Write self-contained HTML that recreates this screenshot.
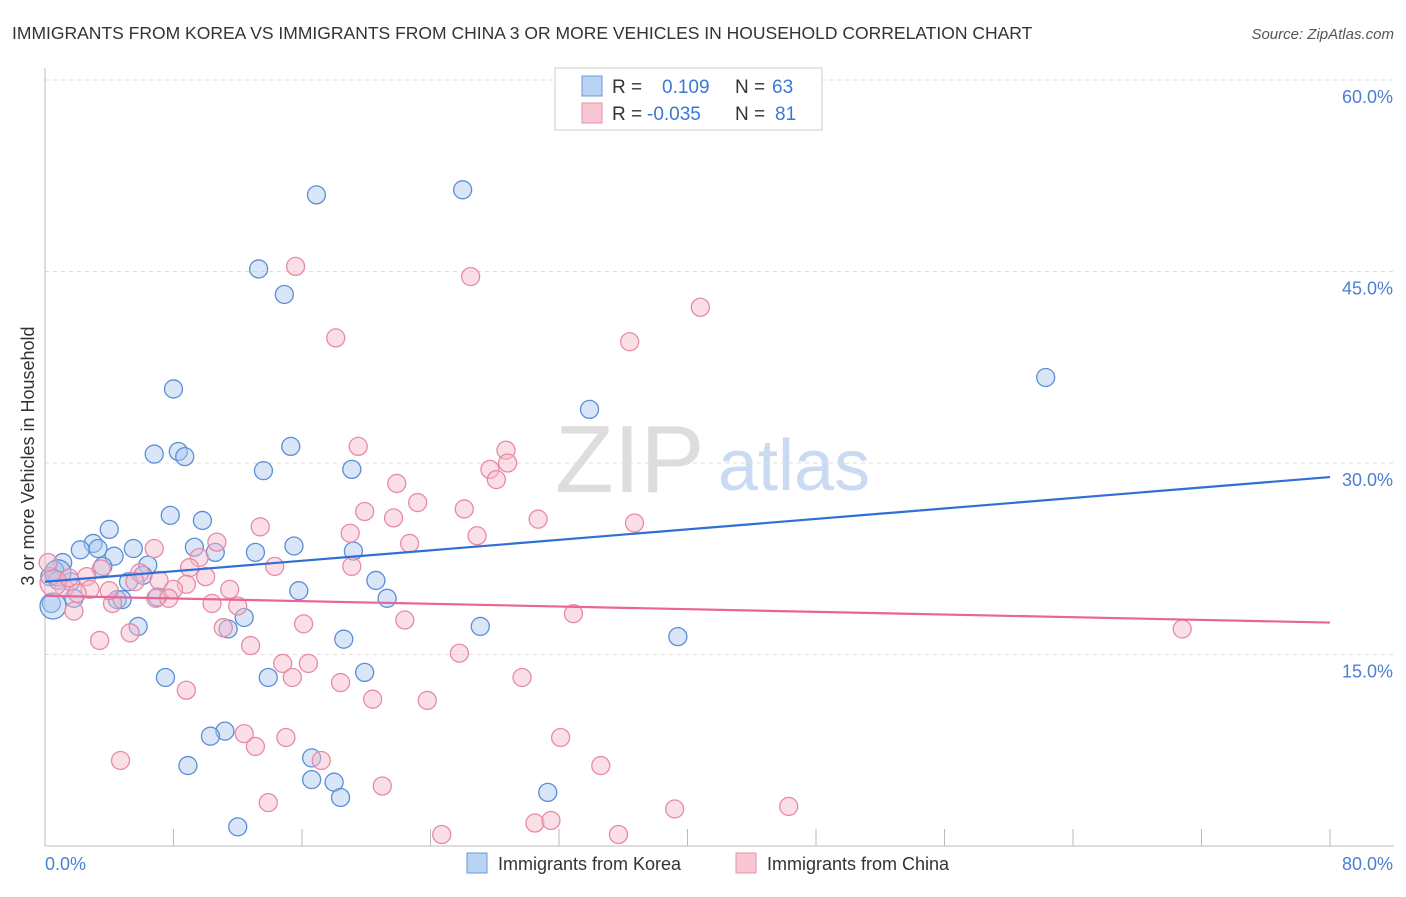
<!DOCTYPE html>
<html><head><meta charset="utf-8"><style>
body{margin:0;background:#fff;font-family:"Liberation Sans",sans-serif}
svg text{font-family:"Liberation Sans",sans-serif}
</style></head><body>
<svg id="c" width="1406" height="892">
<text x="12" y="39" font-size="17.5" fill="#333">IMMIGRANTS FROM KOREA VS IMMIGRANTS FROM CHINA 3 OR MORE VEHICLES IN HOUSEHOLD CORRELATION CHART</text>
<text x="1394" y="39" font-size="15" fill="#555" text-anchor="end" font-style="italic">Source: ZipAtlas.com</text>
<text x="34" y="456" font-size="18" fill="#333" text-anchor="middle" transform="rotate(-90 34 456)">3 or more Vehicles in Household</text>
<text x="555" y="492" font-size="96" fill="#ddd" font-family="Liberation Serif">ZIP</text>
<text x="718" y="490" font-size="72" fill="#c9daf2">atlas</text>
<g id="grid"></g><g id="pts"></g><g id="lines"></g>
<g>
<rect x="555" y="68" width="267" height="62" fill="#fff" stroke="#ccc"/>
<rect x="582" y="76" width="20" height="20" fill="#b9d3f5" stroke="#6c9ad9"/>
<rect x="582" y="103" width="20" height="20" fill="#f9c6d4" stroke="#e893ad"/>
<text x="612" y="93" font-size="19" fill="#333">R =</text><text x="662" y="93" font-size="19" fill="#3b78d6">0.109</text>
<text x="735" y="93" font-size="19" fill="#333">N =</text><text x="772" y="93" font-size="19" fill="#3b78d6">63</text>
<text x="612" y="120" font-size="19" fill="#333">R =</text><text x="647" y="120" font-size="19" fill="#3b78d6">-0.035</text>
<text x="735" y="120" font-size="19" fill="#333">N =</text><text x="775" y="120" font-size="19" fill="#3b78d6">81</text>
</g>
<g>
<rect x="467" y="853" width="20" height="20" fill="#b9d3f5" stroke="#6c9ad9"/>
<text x="498" y="870" font-size="18" fill="#333">Immigrants from Korea</text>
<rect x="736" y="853" width="20" height="20" fill="#f9c6d4" stroke="#e893ad"/>
<text x="767" y="870" font-size="18" fill="#333">Immigrants from China</text>
</g>
</svg>
<script>
const yTicks=[15,30,45,60];
const xTickLabels=["0.0%","80.0%"];
const koreaX=[16.9,26.0,13.3,14.9,8.0,62.3,33.9,6.8,8.3,8.7,15.3,13.6,19.1,7.8,9.8,4.0,3.0,2.2,3.3,5.5,4.3,9.3,10.6,13.1,15.5,19.2,1.1,3.6,6.4,6.1,0.6,0.3,0.8,1.6,5.2,20.6,15.8,1.8,4.5,4.8,7.0,21.3,0.4,12.4,5.8,11.4,27.1,18.6,39.4,19.9,7.5,13.9,11.2,10.3,8.9,16.6,16.6,18.0,18.4,31.3,12.0,0.5,0.8];
const koreaY=[51.0,51.4,45.2,43.2,35.8,36.7,34.2,30.7,30.9,30.5,31.3,29.4,29.5,25.9,25.5,24.8,23.7,23.2,23.3,23.3,22.7,23.4,23.0,23.0,23.5,23.1,22.2,21.9,22.0,21.2,21.6,21.1,20.8,20.7,20.7,20.8,20.0,19.4,19.3,19.3,19.5,19.4,19.0,17.9,17.2,17.0,17.2,16.2,16.4,13.6,13.2,13.2,9.0,8.6,6.3,6.9,5.2,5.0,3.8,4.2,1.5,18.8,21.4];
const chinaX=[15.6,26.5,40.8,18.1,36.4,19.5,28.7,28.8,27.7,28.1,21.9,23.2,19.9,26.1,21.7,30.7,36.7,13.4,19.0,26.9,22.7,6.8,10.7,9.6,0.2,14.3,19.1,3.5,9.0,5.9,2.6,10.0,7.1,5.6,8.8,1.2,2.8,8.0,11.5,6.9,7.7,4.2,10.4,12.0,1.8,22.4,32.9,16.1,11.1,3.4,5.3,12.8,25.8,14.8,16.4,15.4,18.4,29.7,8.8,20.4,23.8,70.8,12.4,15.0,13.1,32.1,4.7,17.2,34.6,21.0,13.9,46.3,39.2,30.5,31.5,24.7,35.7,0.5,1.5,4.0,2.0];
const chinaY=[45.4,44.6,42.2,39.8,39.5,31.3,31.0,30.0,29.5,28.7,28.4,26.9,26.2,26.4,25.7,25.6,25.3,25.0,24.5,24.3,23.7,23.3,23.8,22.6,22.2,21.9,21.9,21.7,21.8,21.4,21.1,21.1,20.8,20.7,20.5,20.2,20.1,20.1,20.1,19.4,19.4,19.0,19.0,18.8,18.4,17.7,18.2,17.4,17.1,16.1,16.7,15.7,15.1,14.3,14.3,13.2,12.8,13.2,12.2,11.5,11.4,17.0,8.8,8.5,7.8,8.5,6.7,6.7,6.3,4.7,3.4,3.1,2.9,1.8,2.0,0.9,0.9,20.6,21.0,20.0,19.8];
const koreaTrend=[20.7,28.9];
const chinaTrend=[19.6,17.5];
const X0=45,X1=1330,Y0=846,Y60=80;
const sx=v=>X0+(v/80)*(X1-X0);
const sy=v=>Y0-(v/60)*(Y0-Y60);
const NS="http://www.w3.org/2000/svg";
function mk(tag,attrs,parent){const e=document.createElementNS(NS,tag);for(const k in attrs)e.setAttribute(k,attrs[k]);parent.appendChild(e);return e;}
const grid=document.getElementById('grid');
yTicks.forEach(t=>{
 const l=mk('line',{x1:X0,x2:1394,y1:sy(t),y2:sy(t),stroke:'#ddd','stroke-dasharray':'4,4'},grid);
 
 
 const tx=mk('text',{x:1393,y:sy(t)+23,'font-size':18,fill:'#4a7fd4','text-anchor':'end'},grid);
 tx.textContent=t.toFixed(1)+'%';
 
 
});
const ax=mk('line',{x1:X0,x2:X0,y1:68,y2:846,stroke:'#bbb'},grid);


const bx=mk('line',{x1:X0,x2:1394,y1:846,y2:846,stroke:'#bbb'},grid);


for(let i=0;i<=10;i++){
 const t=mk('line',{x1:sx(i*8),x2:sx(i*8),y1:829,y2:846,stroke:'#bbb'},grid);
 
 
}
[[0,'start',45],[80,'end',1393]].forEach((d,i)=>{
 const t=mk('text',{x:d[2],y:870,'font-size':18,fill:'#4a7fd4','text-anchor':d[1]},grid);
 t.textContent=xTickLabels[i];
 
 
});
const pts=document.getElementById('pts');
function draw(xs,ys,fill,stroke,name){
 xs.forEach((x,i)=>{
  const r=(x<1&&i>=xs.length-4)?13:9;
  const c=mk('circle',{cx:sx(x),cy:sy(ys[i]),r:r,fill:fill,'fill-opacity':0.45,stroke:stroke,'stroke-width':1.3},pts);
  
  
 });
}
draw(koreaX,koreaY,'#a9c8f0','#5b8ed6','korea-point');
draw(chinaX,chinaY,'#f7b7ca','#e88aa6','china-point');
const lines=document.getElementById('lines');
const kl=mk('line',{x1:sx(0),y1:sy(koreaTrend[0]),x2:sx(80),y2:sy(koreaTrend[1]),stroke:'#2f6fd6','stroke-width':2.2},lines);


const cl=mk('line',{x1:sx(0),y1:sy(chinaTrend[0]),x2:sx(80),y2:sy(chinaTrend[1]),stroke:'#e8649a','stroke-width':2.2},lines);


</script>
</body></html>
